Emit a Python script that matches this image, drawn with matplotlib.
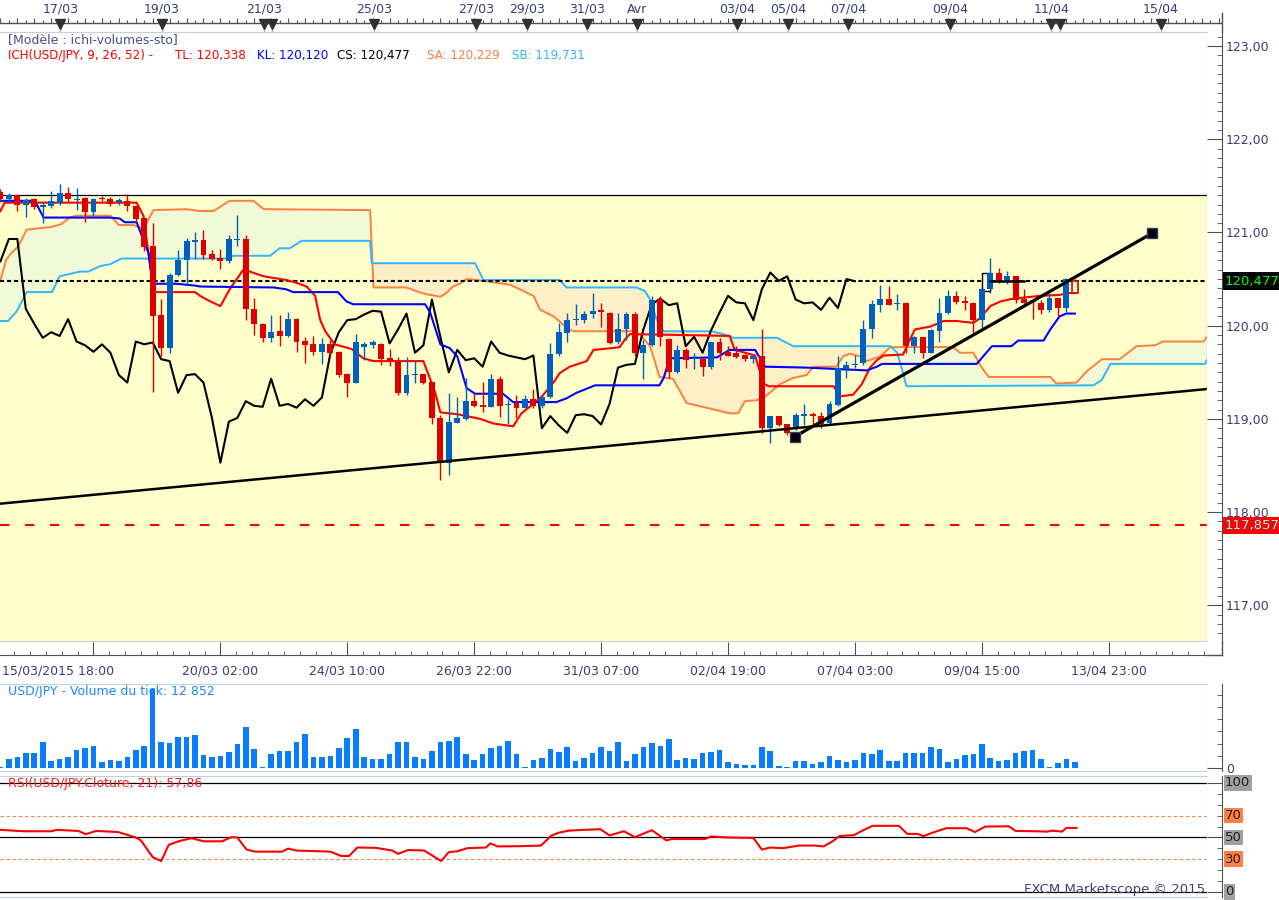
import numpy as np
import matplotlib
matplotlib.use("Agg")
import matplotlib.pyplot as plt
import matplotlib.transforms as mtrans
from matplotlib.lines import Line2D
from matplotlib.patches import Rectangle
from matplotlib.ticker import FixedLocator, MultipleLocator, FuncFormatter

plt.rcParams['font.family'] = ['DejaVu Sans']
plt.rcParams['font.size'] = 9

# ---- USD/JPY 4h candles (index 0 = first visible candle)
opens = [121.43, 121.36, 121.40, 121.30, 121.36, 121.27, 121.28, 121.32, 121.42, 121.35,
         121.37, 121.22, 121.37, 121.36, 121.33, 121.34, 121.28, 121.16, 120.85, 120.11,
         119.76, 120.54, 120.71, 120.90, 120.92, 120.77, 120.73, 120.69, 120.92, 120.93,
         120.18, 120.02, 119.87, 119.94, 119.89, 120.07, 119.84, 119.80, 119.72, 119.80,
         119.72, 119.48, 119.39, 119.77, 119.79, 119.80, 119.65, 119.62, 119.28, 119.47,
         119.48, 119.40, 119.01, 118.53, 118.96, 119.00, 119.19, 119.15, 119.13, 119.43,
         119.15, 119.17, 119.12, 119.21, 119.14, 119.23, 119.70, 119.92, 120.06, 120.06,
         120.12, 120.16, 120.14, 119.82, 119.96, 120.13, 119.71, 119.79, 120.29, 119.86,
         119.50, 119.74, 119.64, 119.64, 119.56, 119.83, 119.72, 119.71, 119.69, 119.64,
         119.68, 118.90, 119.03, 118.94, 118.90, 119.03, 119.05, 119.03, 118.96, 119.15,
         119.53, 119.58, 119.60, 119.96, 120.22, 120.29, 120.23, 120.24, 119.78, 119.88,
         119.71, 119.94, 120.14, 120.32, 120.26, 120.24, 120.06, 120.39, 120.57, 120.49,
         120.53, 120.29, 120.28, 120.24, 120.17, 120.30, 120.19, 120.35]
highs = [121.47, 121.42, 121.41, 121.37, 121.37, 121.33, 121.45, 121.52, 121.49, 121.48,
         121.38, 121.37, 121.39, 121.38, 121.37, 121.41, 121.29, 121.17, 121.10, 120.29,
         120.57, 120.81, 120.94, 121.00, 121.03, 120.81, 120.82, 120.97, 121.19, 120.97,
         120.30, 120.03, 120.11, 120.11, 120.15, 120.08, 119.88, 119.89, 119.87, 119.85,
         119.73, 119.49, 119.91, 119.83, 119.85, 119.81, 119.75, 119.66, 119.66, 119.62,
         119.48, 119.40, 119.04, 119.28, 119.24, 119.44, 119.29, 119.40, 119.48, 119.46,
         119.20, 119.26, 119.26, 119.32, 119.26, 119.81, 120.03, 120.14, 120.23, 120.16,
         120.35, 120.24, 120.15, 120.14, 120.15, 120.15, 119.85, 120.32, 120.32, 119.87,
         119.79, 119.76, 119.71, 119.66, 119.83, 119.87, 119.78, 119.78, 119.70, 119.69,
         119.96, 119.03, 119.03, 118.95, 119.06, 119.16, 119.07, 119.07, 119.19, 119.67,
         119.62, 119.69, 120.06, 120.28, 120.44, 120.43, 120.34, 120.25, 119.89, 119.88,
         119.96, 120.30, 120.38, 120.37, 120.32, 120.25, 120.42, 120.73, 120.62, 120.59,
         120.53, 120.39, 120.29, 120.28, 120.35, 120.30, 120.51, 120.50]
lows = [121.33, 121.32, 121.23, 121.17, 121.25, 121.10, 121.26, 121.30, 121.32, 121.24,
        121.11, 121.18, 121.34, 121.28, 121.29, 121.23, 121.11, 120.80, 119.29, 119.67,
        119.71, 120.53, 120.44, 120.72, 120.72, 120.70, 120.61, 120.67, 120.85, 120.06,
        119.90, 119.83, 119.82, 119.78, 119.88, 119.72, 119.60, 119.69, 119.59, 119.67,
        119.45, 119.23, 119.38, 119.63, 119.76, 119.58, 119.57, 119.26, 119.26, 119.38,
        119.37, 118.94, 118.34, 118.40, 118.96, 118.99, 119.13, 119.07, 119.13, 119.02,
        118.94, 119.01, 119.12, 119.12, 119.12, 119.22, 119.67, 119.83, 120.01, 120.03,
        120.08, 119.99, 119.80, 119.80, 119.85, 119.67, 119.43, 119.78, 119.78, 119.44,
        119.49, 119.55, 119.53, 119.46, 119.53, 119.63, 119.67, 119.65, 119.62, 119.60,
        118.85, 118.74, 118.92, 118.83, 118.88, 118.93, 118.95, 118.90, 118.95, 119.14,
        119.44, 119.55, 119.58, 119.87, 120.15, 120.22, 120.17, 119.71, 119.71, 119.65,
        119.71, 119.83, 120.12, 120.23, 120.17, 119.92, 119.98, 120.35, 120.46, 120.45,
        120.24, 120.23, 120.07, 120.12, 120.15, 120.10, 120.15, 120.35]
closes = [121.36, 121.40, 121.30, 121.35, 121.27, 121.29, 121.34, 121.42, 121.36, 121.36,
          121.22, 121.36, 121.36, 121.31, 121.34, 121.28, 121.14, 120.84, 120.10, 119.76,
          120.54, 120.71, 120.91, 120.92, 120.76, 120.72, 120.69, 120.93, 120.93, 120.18,
          120.02, 119.87, 119.93, 119.89, 120.07, 119.83, 119.79, 119.72, 119.80, 119.71,
          119.47, 119.39, 119.83, 119.80, 119.82, 119.64, 119.62, 119.28, 119.47, 119.48,
          119.39, 119.01, 118.53, 118.97, 119.01, 119.19, 119.14, 119.13, 119.43, 119.14,
          119.16, 119.12, 119.21, 119.14, 119.23, 119.70, 119.93, 120.06, 120.07, 120.12,
          120.16, 120.15, 119.81, 119.96, 120.13, 119.71, 119.79, 120.28, 119.88, 119.50,
          119.74, 119.63, 119.65, 119.56, 119.83, 119.71, 119.68, 119.66, 119.64, 119.68,
          118.90, 119.03, 118.93, 118.85, 119.04, 119.05, 119.03, 118.94, 119.16, 119.55,
          119.58, 119.59, 119.96, 120.23, 120.29, 120.22, 120.24, 119.78, 119.88, 119.71,
          119.95, 120.14, 120.32, 120.25, 120.24, 120.06, 120.39, 120.57, 120.48, 120.53,
          120.28, 120.24, 120.25, 120.17, 120.30, 120.19, 120.50, 120.477]
volumes = [150, 1410, 1740, 2390, 2390, 4180, 1090, 1410, 1740, 2880,
           3200, 3530, 920, 1250, 1090, 1740, 2880, 3530, 12852, 4180,
           4020, 5000, 5000, 5320, 2060, 1740, 1900, 2550, 3860, 6630,
           3040, 150, 2230, 2720, 2720, 4180, 5490, 1740, 1740, 1900,
           3200, 4840, 6300, 1740, 1410, 1410, 2230, 4180, 4180, 1740,
           1410, 2720, 4180, 4350, 5000, 2230, 1250, 2230, 3200, 3530,
           4350, 2230, 150, 1250, 1580, 3040, 2550, 3370, 1090, 1580,
           2390, 3370, 2720, 4180, 1090, 2230, 3370, 4020, 3530, 4670,
           1250, 1580, 1410, 2390, 2550, 2880, 920, 600, 430, 430,
           3370, 2720, 270, 100, 1090, 1090, 600, 920, 1900, 1250,
           920, 1250, 2390, 2230, 2880, 1090, 1090, 2390, 2390, 2390,
           3370, 3040, 920, 1410, 2060, 2230, 3860, 1580, 1090, 1250,
           2390, 2720, 2880, 1410, 100, 760, 1410, 920]

# ---- Ichimoku lines (breakpoints: candle index, price)
tenkan_x = [0, 0.5, 16.1, 16.9, 17.5, 18.1, 23.0, 23.6, 24.6, 26.0, 27.1, 28.7, 29.5, 31.1,
            33.8, 35.0, 36.2, 37.2, 37.8, 38.4, 39.5, 41.5, 42.9, 44.1, 50.0, 51.4, 52.0,
            54.0, 55.1, 56.7, 58.3, 60.6, 61.6, 63.8, 65.3, 66.1, 67.3, 69.3, 70.1, 72.4,
            73.2, 73.8, 74.4, 86.2, 86.8, 89.2, 90.2, 90.8, 98.5, 99.2, 100.8, 101.8, 102.8,
            103.6, 104.4, 106.7, 107.5, 108.1, 109.9, 111.5, 113.0, 115.0, 115.8, 117.0,
            118.2, 119.7, 122.9, 125.2, 126.2, 127.0]
tenkan_y = [121.23, 121.32, 121.32, 121.18, 120.78, 120.36, 120.36, 120.32, 120.27, 120.21,
            120.39, 120.60, 120.58, 120.53, 120.49, 120.46, 120.42, 120.32, 120.06, 119.94,
            119.80, 119.75, 119.65, 119.62, 119.62, 119.28, 119.07, 119.05, 119.03, 119.00,
            118.95, 118.92, 119.06, 119.22, 119.38, 119.49, 119.56, 119.62, 119.74, 119.76,
            119.77, 119.85, 119.91, 119.89, 119.74, 119.68, 119.38, 119.35, 119.35, 119.24,
            119.26, 119.37, 119.55, 119.63, 119.68, 119.69, 119.85, 119.96, 119.99, 120.05,
            120.05, 120.03, 120.08, 120.21, 120.26, 120.29, 120.32, 120.33, 120.35, 120.35]
kijun_x = [0, 3.9, 4.3, 5.1, 12.9, 14.1, 14.7, 16.1, 17.5, 18.0, 20.8, 23.0, 23.6, 32.3,
           33.8, 34.6, 39.9, 40.9, 41.7, 50.2, 50.8, 52.0, 53.1, 54.0, 55.1, 56.1, 59.4,
           60.6, 65.7, 66.9, 68.1, 70.3, 77.9, 78.4, 78.8, 79.1, 84.7, 86.2, 89.2, 90.4,
           95.3, 102.4, 103.6, 104.2, 115.4, 117.2, 119.5, 120.3, 123.3, 124.1, 125.2,
           126.0, 127.0]
kijun_y = [121.34, 121.34, 121.30, 121.16, 121.16, 121.15, 121.11, 121.11, 120.78, 120.45,
           120.45, 120.43, 120.42, 120.41, 120.39, 120.36, 120.36, 120.26, 120.23, 120.23,
           120.14, 119.80, 119.76, 119.67, 119.33, 119.27, 119.27, 119.18, 119.18, 119.22,
           119.28, 119.36, 119.36, 119.44, 119.56, 119.65, 119.66, 119.74, 119.74, 119.56,
           119.55, 119.52, 119.56, 119.59, 119.59, 119.78, 119.78, 119.84, 119.84, 119.96,
           120.10, 120.13, 120.13]
senkou_a_x = [0, 0.7, 1.3, 2.1, 3.1, 5.1, 6.1, 7.2, 8.2, 9.0, 13.0, 14.0, 15.7, 16.9, 18.1,
              22.0, 23.6, 25.2, 27.1, 29.9, 31.1, 43.7, 44.1, 48.0, 49.2, 50.2, 52.0, 52.7,
              53.5, 54.3, 55.1, 56.3, 60.2, 61.4, 63.0, 63.8, 65.4, 66.9, 67.7, 74.8, 75.6,
              76.8, 77.9, 79.5, 81.1, 86.2, 87.2, 88.0, 89.4, 90.4, 92.1, 93.7, 95.3, 96.1,
              98.8, 99.6, 100.4, 101.6, 102.4, 104.0, 105.2, 112.6, 113.4, 115.0, 116.0,
              116.8, 124.1, 124.8, 127.2, 128.4, 130.2, 132.3, 134.3, 136.5, 137.4, 142.2,
              142.6]
senkou_a_y = [120.49, 120.71, 120.78, 120.85, 121.03, 121.05, 121.06, 121.09, 121.16, 121.18,
              121.18, 121.08, 121.08, 121.04, 121.24, 121.25, 121.23, 121.23, 121.34, 121.34,
              121.25, 121.24, 120.41, 120.41, 120.37, 120.34, 120.31, 120.35, 120.42, 120.45,
              120.50, 120.49, 120.44, 120.39, 120.32, 120.17, 120.10, 119.98, 119.94, 119.94,
              119.90, 119.78, 119.45, 119.43, 119.17, 119.06, 119.06, 119.19, 119.20, 119.24,
              119.37, 119.44, 119.47, 119.56, 119.56, 119.67, 119.70, 119.67, 119.62, 119.67,
              119.77, 119.77, 119.71, 119.71, 119.55, 119.45, 119.45, 119.38, 119.39, 119.51,
              119.64, 119.64, 119.78, 119.79, 119.83, 119.83, 119.88]
senkou_b_x = [0, 0.9, 1.9, 3.1, 6.1, 7.0, 9.4, 10.4, 11.8, 13.0, 14.3, 27.1, 27.5, 31.9,
              33.0, 34.2, 35.6, 43.7, 43.9, 56.1, 57.1, 66.1, 66.9, 75.2, 76.2, 76.8, 77.6,
              78.4, 84.1, 86.2, 86.6, 91.8, 93.7, 105.2, 106.0, 106.7, 107.1, 129.2, 130.2,
              131.2, 142.4, 142.6]
senkou_b_y = [120.05, 120.05, 120.15, 120.36, 120.36, 120.53, 120.58, 120.58, 120.64, 120.66,
              120.72, 120.72, 120.75, 120.75, 120.83, 120.83, 120.91, 120.91, 120.67, 120.67,
              120.49, 120.49, 120.41, 120.41, 120.37, 120.28, 120.06, 119.94, 119.94, 119.89,
              119.87, 119.87, 119.78, 119.78, 119.71, 119.49, 119.35, 119.36, 119.42, 119.59,
              119.59, 119.63]

# ---- RSI(21) breakpoints
rsi_x = [0, 2.8, 6, 6.7, 9.2, 10.1, 11.3, 13.9, 15.9, 16.6, 18, 19, 19.9, 21.2, 22.6, 24,
         26.2, 27.3, 28, 29.1, 30.1, 33.3, 34, 35, 39, 40.3, 41.2, 42.2, 44.4, 46.3, 47,
         48.2, 50.1, 52.1, 53, 54, 55.2, 57.4, 57.9, 58.8, 61.4, 63.9, 65.1, 66, 67.2, 69,
         70.9, 72, 73.7, 75, 77, 78.7, 79.4, 83.3, 84, 86, 89, 90, 91, 92.5, 94.4, 96.3,
         97.3, 98.3, 99.2, 100.9, 101.9, 103.1, 106.2, 107.2, 108.4, 109.1, 110.4, 111.8,
         114.2, 115.2, 116.4, 119.2, 120, 122.2, 123.8, 124.3, 125.5, 126, 127.2]
rsi_y = [57, 55.7, 55.7, 57, 56, 53, 56, 55, 50.3, 47.4, 32, 28.4, 43.3, 46.8, 49.4, 46.5,
         46.5, 50.3, 50, 38.9, 37, 37, 39.8, 38, 37, 33, 33, 40.8, 40.5, 38, 35, 38.5, 38,
         28.4, 36.6, 37.3, 40.2, 40.8, 44.6, 41.8, 42, 42.6, 51.6, 54.4, 56.3, 57, 57.6,
         51.9, 55.7, 50.3, 56.7, 47.4, 48.6, 48.6, 50.9, 50, 49.6, 38.9, 40.8, 40.2, 42.6,
         42.6, 41.8, 46.2, 51.3, 52.2, 56.3, 60.7, 60.7, 53.3, 53.3, 51.3, 55, 58.5, 58.5,
         55, 60, 60.3, 56, 55.7, 55.4, 56.3, 55.4, 58.8, 58.8]

# ---- drawings on the chart
zone_top = 121.40
last_price = 120.477
support = 117.857
trend_low_x, trend_low_y = [-0.05, 142.6], [118.09, 119.32]
trend_up_x, trend_up_y = [93.9, 136.1], [118.81, 120.99]
flat_x, flat_y = [117, 121], [120.48, 120.48]
box_x, box_y = [116.06, 116.97], [120.37, 120.56]

top_labels = ['17/03', '19/03', '21/03', '25/03', '27/03', '29/03', '31/03', 'Avr',
              '03/04', '05/04', '07/04', '09/04', '11/04', '15/04']
top_pos = [7.1, 19.1, 31.2, 44.2, 56.2, 62.3, 69.3, 75.2, 87.1, 93.1, 100.2, 112.2, 124.2, 137.2]
top_extra = [32.1, 125.2]
bottom_labels = ['15/03/2015 18:00', '20/03 02:00', '24/03 10:00', '26/03 22:00', '31/03 07:00',
                 '02/04 19:00', '07/04 03:00', '09/04 15:00', '13/04 23:00']
bottom_pos = [0.18, 26, 41, 56, 71, 86, 101, 116, 131]
grid_pos = [11, 26, 41, 56, 71, 86, 101, 116, 131]

# ---- colours
RED, BLUE = '#DD0000', '#0060C0'
TXT, DARK, LIGHT = '#3C3C78', '#505050', '#C4D0DC'
SA_C, SB_C = '#FF7F3F', '#2EB6FF'

W, H = 1279, 900
CW = 8.46
XL = (-0.05, -0.05 + 1207 / CW)

fig = plt.figure(figsize=(W / 100, H / 100), dpi=100)


def box(x0, y0, x1, y1):
    return [x0 / W, 1 - y1 / H, (x1 - x0) / W, (y1 - y0) / H]


def fline(xs, ys, **kw):
    fig.add_artist(Line2D([x / W for x in xs], [1 - y / H for y in ys],
                          transform=fig.transFigure, **kw))


def panel(a):
    a.set_xlim(*XL)
    a.spines['left'].set_visible(False)
    a.spines['top'].set_color(LIGHT)
    a.spines['bottom'].set_color(LIGHT)
    a.spines['right'].set_position(('outward', 10.8))
    a.spines['right'].set_color(DARK)
    a.axvline(XL[1] - 0.05, color=LIGHT, lw=1, zorder=10)
    a.yaxis.tick_right()
    a.tick_params(axis='y', which='both', direction='in', color=DARK, labelcolor=TXT,
                  pad=3, labelsize=9)
    a.tick_params(axis='y', which='major', length=10.8)
    a.tick_params(axis='y', which='minor', length=3.6)


ax = fig.add_axes(box(0, 32, 1207, 642))
axv = fig.add_axes(box(0, 684, 1207, 771))
axr = fig.add_axes(box(0, 776, 1207, 897))
axt = fig.add_axes(box(0, 0, 1222, 32))

# ---------------- main price panel
panel(ax)
ax.set_ylim(116.606, 123.151)
ax.yaxis.set_major_locator(MultipleLocator(1))
ax.yaxis.set_minor_locator(MultipleLocator(0.1))
ax.yaxis.set_major_formatter(FuncFormatter(lambda v, p: f"{v:.2f}".replace('.', ',')))
ax.spines['bottom'].set_position(('outward', 9.4))
ax.spines['bottom'].set_color(DARK)
ax.axhline(116.606, color=LIGHT, lw=1.5, zorder=10)
ax.xaxis.set_major_locator(FixedLocator(grid_pos))
ax.xaxis.set_minor_locator(FixedLocator(np.arange(11 - 1.875 * 5, 143, 1.875)))
ax.tick_params(axis='x', which='both', direction='in', color=DARK, labelbottom=False)
ax.tick_params(axis='x', which='major', length=9.4)
ax.tick_params(axis='x', which='minor', length=2.9)

ax.axhspan(110, zone_top, color='#FFFFCC', lw=0, zorder=0)
ax.axhline(zone_top, color='black', lw=0.9, zorder=1)

grid = np.linspace(0, XL[1], 4000)
sa = np.interp(grid, senkou_a_x, senkou_a_y)
sb = np.interp(grid, senkou_b_x, senkou_b_y)
ax.fill_between(grid, sa, sb, where=sa >= sb, interpolate=True, color='#F2F9D6', lw=0, zorder=1)
ax.fill_between(grid, sa, sb, where=sa < sb, interpolate=True, color='#FDEFC6', lw=0, zorder=1)
ax.plot(senkou_a_x, senkou_a_y, color=SA_C, lw=1.4, zorder=2)
ax.plot(senkou_b_x, senkou_b_y, color=SB_C, lw=1.4, zorder=2)

n = len(closes)
idx = np.arange(n)
o, h, l, c = map(np.array, (opens, highs, lows, closes))
ax.plot(idx[:n - 26], c[26:], color='black', lw=1.5, zorder=3)  # chikou span

ax.axhline(last_price, color='black', lw=1.5, ls=(0, (2.0, 1.35)), zorder=3)
ax.axhline(support, color='#FF0000', lw=1.5, ls=(0, (4.5, 7.5)), zorder=3)

ax.plot(tenkan_x, tenkan_y, color='#FF0000', lw=1.5, zorder=4)
ax.plot(kijun_x, kijun_y, color='#0000FF', lw=1.5, zorder=4)

col = np.where(c >= o, BLUE, RED)
col[-1] = RED
ax.vlines(idx, l, h, colors=col, lw=1.0, zorder=5)
lo = np.minimum(o, c)
ht = np.maximum(np.abs(c - o), 0.014)
ax.bar(idx[:-1], ht[:-1], 0.7, bottom=lo[:-1], color=col[:-1], lw=0, zorder=6)
ax.bar(idx[-1:], ht[-1:], 0.7, bottom=lo[-1:], facecolor='#FFFFCC', edgecolor=RED, lw=1.2, zorder=6)
ax.add_patch(Rectangle((box_x[0], box_y[0]), box_x[1] - box_x[0], box_y[1] - box_y[0],
                       facecolor='#FFFFC8', edgecolor='black', lw=1, zorder=5.5))
ax.plot(flat_x, flat_y, color='black', lw=1.8, zorder=6)

ax.plot(trend_low_x, trend_low_y, color='black', lw=1.8, zorder=7)
ax.plot(trend_up_x, trend_up_y, color='black', lw=2.3, zorder=7)
ax.plot(trend_up_x, trend_up_y, 's', ms=7, mfc='black', mec='#3A3A6A', mew=1, zorder=8)

tr = mtrans.blended_transform_factory(fig.transFigure, ax.transData)
ax.text(1225 / W, last_price, '120,477', transform=tr, color='#00FF00', ha='left', va='center',
        fontsize=9.5, bbox=dict(boxstyle='square,pad=0.18', fc='black', ec='none'), clip_on=False)
ax.text(1225 / W, support, '117,857', transform=tr, color='#80FFFF', ha='left', va='center',
        fontsize=9.5, bbox=dict(boxstyle='square,pad=0.18', fc='#FF0000', ec='none'), clip_on=False)

ax.text(8 / 1207, (642 - 40) / 610, '[Modèle : ichi-volumes-sto]', transform=ax.transAxes,
        color='#4B4B8C', va='center', zorder=12)
hy = (642 - 55) / 610
for xp, s, cc in [(8, 'ICH(USD/JPY, 9, 26, 52) -', '#FF0000'), (175, 'TL: 120,338', '#FF0000'),
                  (257, 'KL: 120,120', '#0000FF'), (337, 'CS: 120,477', 'black'),
                  (427, 'SA: 120,229', SA_C), (512, 'SB: 119,731', SB_C)]:
    ax.text(xp / 1207, hy, s, transform=ax.transAxes, color=cc, va='center', fontsize=8.6,
            zorder=12)

bt = mtrans.blended_transform_factory(ax.transData, fig.transFigure)
for k, (p, s) in enumerate(zip(bottom_pos, bottom_labels)):
    ax.text(p, 1 - 671 / H, s, transform=bt, color=TXT, va='center',
            ha='left' if k == 0 else 'center', clip_on=False)

# frame extensions
fline([1207, 1222], [655, 655], color=DARK, lw=1)
fline([1222, 1222], [13, 32], color=DARK, lw=1)
fline([1222, 1222], [642, 655], color=DARK, lw=1)

# ---------------- top date strip
axt.set_xlim(XL[0], XL[0] + 1222 / CW)
axt.set_ylim(32, 0)
axt.axis('off')
axt.axhline(23.3, color=DARK, lw=1)
ti = np.arange(0, 145)
axt.vlines(ti, np.where(ti % 2 == 0, 17.8, 20.3), 23.3, color=DARK, lw=0.8)
marks = top_pos + top_extra
axt.vlines(marks, 24, 32, color='#A8B4C4', lw=1)
axt.plot(marks, [24] * len(marks), 'v', ms=7, color='#303030')
for p, s in zip(top_pos, top_labels):
    axt.text(p, 9.5, s, ha='center', va='center', color=TXT)

# ---------------- volume panel
panel(axv)
axv.set_ylim(-490, 13717)
axv.set_xticks([])
axv.bar(idx, volumes, 0.66, color='#0A7DFF', zorder=2)
axv.set_yticks([0])
axv.set_yticklabels(['0'])
axv.yaxis.set_minor_locator(FixedLocator(np.arange(2000, 14000, 2000)))
axv.text(8 / 1207, (771 - 692) / 87, 'USD/JPY - Volume du tick: 12 852', transform=axv.transAxes,
         color='#1E88FF', va='center', zorder=1)

# ---------------- RSI panel
panel(axr)
axr.set_ylim(-4.6, 106.4)
axr.set_xticks([])
for v in (100, 50, 0):
    axr.axhline(v, color='black', lw=0.9, zorder=1)
for v in (70, 30):
    axr.axhline(v, color='#FF8040', lw=0.8, ls=(0, (3, 2.5)), zorder=1)
axr.plot(rsi_x, rsi_y, color='#FF0000', lw=1.5, zorder=3)
axr.set_yticks([0, 50, 100])
axr.set_yticklabels([])
axr.yaxis.set_minor_locator(MultipleLocator(10))
rt = mtrans.blended_transform_factory(fig.transFigure, axr.transData)
for v, fc in [(100, '#A0A0A0'), (70, '#FF8040'), (50, '#A0A0A0'), (30, '#FF8040'), (0, '#A0A0A0')]:
    axr.text(1225 / W, v, str(v), transform=rt, color='#202020', ha='left', va='center',
             fontsize=9.5, bbox=dict(boxstyle='square,pad=0.1', fc=fc, ec='none'), clip_on=False)
axr.text(8 / 1207, (897 - 784) / 121, 'RSI(USD/JPY.Cloture, 21): 57,86', transform=axr.transAxes,
         color='#FF2020', va='center', zorder=4)
axr.text(1205 / 1207, (897 - 890) / 121, 'FXCM Marketscope © 2015', transform=axr.transAxes,
         color='#404070', ha='right', va='center', fontsize=9.5, zorder=4)

fig.savefig('out.png', dpi=100)
